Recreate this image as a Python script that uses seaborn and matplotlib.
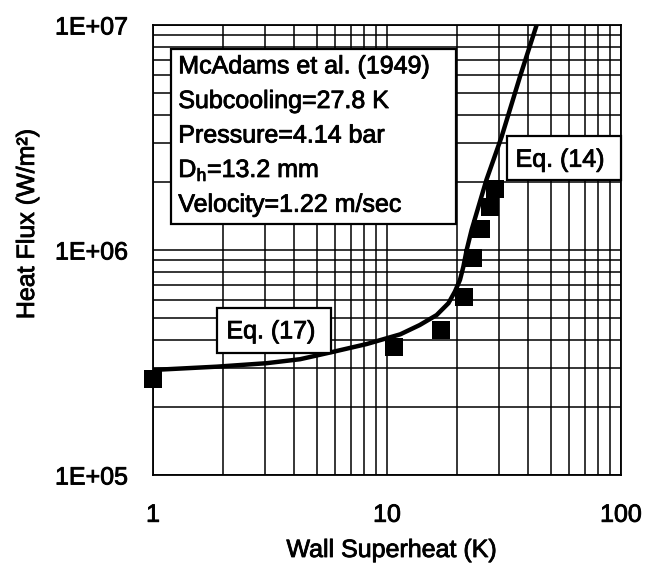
import numpy as np
import pandas as pd
import matplotlib
matplotlib.use("Agg")
import matplotlib.pyplot as plt
import matplotlib.patheffects as pe
import seaborn as sns
from matplotlib.patches import Rectangle
from matplotlib.ticker import LogLocator, NullFormatter

# ---- data ----
x_data = [1.0, 10.7, 17.0, 21.3, 23.4, 25.3, 27.5, 28.9]
y_data = [2.68e5, 3.72e5, 4.41e5, 6.18e5, 9.21e5, 1.24e6, 1.56e6, 1.86e6]

x_curve = [1.0, 1.87, 3.06, 4.25, 5.9, 8.19, 11.4, 13.8, 16.3, 18.3, 19.5, 20.5, 21.2,
           21.9, 23.0, 26.6, 30.9, 37.0, 43.6]
y_curve = [2.93e5, 3.03e5, 3.14e5, 3.27e5, 3.53e5, 3.82e5, 4.22e5, 4.64e5, 5.14e5, 5.80e5,
           6.53e5, 7.36e5, 8.43e5, 1.0e6, 1.23e6, 2.05e6, 3.19e6, 5.89e6, 1.0e7]

x_ticks = [1, 10, 100]
x_tick_labels = ["1", "10", "100"]
y_ticks = [1e5, 1e6, 1e7]
y_tick_labels = ["1E+05", "1E+06", "1E+07"]

info_lines = ["McAdams et al. (1949)", "Subcooling=27.8 K", "Pressure=4.14 bar",
              r"$\mathregular{D_h}$=13.2 mm", "Velocity=1.22 m/sec"]
eq14_label = "Eq. (14)"
eq17_label = "Eq. (17)"

sns.set_style("white")
plt.rcParams['font.family'] = ['Liberation Sans', 'DejaVu Sans']
plt.rcParams['mathtext.fontset'] = 'custom'
plt.rcParams['mathtext.rm'] = 'Liberation Sans'
plt.rcParams['mathtext.it'] = 'Liberation Sans:italic'

heavy = [pe.withStroke(linewidth=0.6, foreground="black")]

W, H = 658, 563
fig = plt.figure(figsize=(W / 100, H / 100), dpi=100)
L, R, T, B = 153, 621, 25, 475
ax = fig.add_axes([L / W, (H - B) / H, (R - L) / W, (B - T) / H])

ax.set_xscale("log")
ax.set_yscale("log")
ax.set_xlim(1, 100)
ax.set_ylim(1e5, 1e7)

ax.set_xticks(x_ticks, x_tick_labels)
ax.set_yticks(y_ticks, y_tick_labels)
ax.xaxis.set_minor_locator(LogLocator(base=10, subs=np.arange(2, 10)))
ax.yaxis.set_minor_locator(LogLocator(base=10, subs=np.arange(2, 10)))
ax.xaxis.set_minor_formatter(NullFormatter())
ax.yaxis.set_minor_formatter(NullFormatter())

ax.grid(True, which="both", color="black", linewidth=1.1)
ax.set_axisbelow(True)
for s in ax.spines.values():
    s.set_color("black")
    s.set_linewidth(1.3)

ax.tick_params(axis="x", which="major", length=0, pad=20, labelsize=18, colors="black")
ax.tick_params(axis="y", which="major", length=5, width=1.2, direction="out",
               pad=13, labelsize=18, colors="black")
ax.tick_params(which="minor", length=0)
for lab in ax.get_xticklabels() + ax.get_yticklabels():
    lab.set_path_effects(heavy)

df_curve = pd.DataFrame({"x": x_curve, "y": y_curve})
df_pts = pd.DataFrame({"x": x_data, "y": y_data})

sns.lineplot(data=df_curve, x="x", y="y", ax=ax, color="black", linewidth=3.2,
             sort=False, estimator=None, zorder=3)
sns.scatterplot(data=df_pts, x="x", y="y", ax=ax, marker="s", s=170, color="black",
                edgecolor="black", linewidth=0, zorder=4, clip_on=False)

ax.set_xlabel("Wall Superheat (K)", fontsize=18, color="black")
ax.set_ylabel("Heat Flux (W/m²)", fontsize=18, color="black")
ax.xaxis.set_label_coords((391.7 - L) / (R - L), -(550 - B) / (B - T))
ax.xaxis.label.set_va("center")
ax.yaxis.set_label_coords((27 - L) / (R - L), (B - 224) / (B - T))
ax.yaxis.label.set_va("center")
ax.xaxis.label.set_path_effects(heavy)
ax.yaxis.label.set_path_effects(heavy)


def px_rect(x0, y0, x1, y1):
    return Rectangle((x0 / W, 1 - y1 / H), (x1 - x0) / W, (y1 - y0) / H,
                     transform=fig.transFigure, facecolor="white", edgecolor="black",
                     linewidth=1.6, zorder=5)


fig.patches.append(px_rect(170.7, 49.3, 456, 224))
baselines = [73.3, 108.0, 142.5, 177.0, 211.7]
for line, yb in zip(info_lines, baselines):
    fig.text(178.3 / W, 1 - yb / H, line, fontsize=18, ha="left", va="baseline",
             color="black", zorder=6, path_effects=heavy)

fig.patches.append(px_rect(506.7, 136, 621, 180))
fig.text(560 / W, 1 - 166.7 / H, eq14_label, fontsize=18, ha="center", va="baseline",
         color="black", zorder=6, path_effects=heavy)

fig.patches.append(px_rect(217.3, 308.3, 330.7, 353.3))
fig.text(270.8 / W, 1 - 338.3 / H, eq17_label, fontsize=18, ha="center", va="baseline",
         color="black", zorder=6, path_effects=heavy)

fig.savefig("out.png", dpi=100)
